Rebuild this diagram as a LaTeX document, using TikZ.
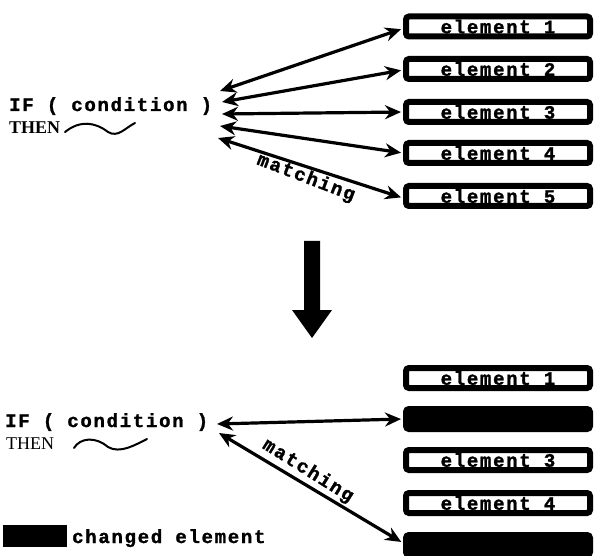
\documentclass[tikz,border=0pt]{standalone}
\usepackage{fontspec}
\usetikzlibrary{arrows.meta}
\newfontfamily\spcfont[LetterSpace=9,FakeBold=1.5]{Liberation Mono}
\newfontfamily\thenfont{Liberation Serif}
\newcommand{\spc}{\spcfont\bfseries\fontsize{19}{19}\selectfont}
\tikzset{
  elbox/.style={draw, line width=6pt, rounded corners=3pt, fill=white,
    minimum width=184pt, minimum height=20pt, inner sep=0pt, font=\spc},
  chgbox/.style={elbox, fill=black},
  plaintext/.style={inner sep=0pt, font=\spc},
  link/.style={line width=3.2pt, {Stealth[length=16pt,width=14pt]}-{Stealth[length=16pt,width=14pt]}},
  wave/.style={line width=2pt, line cap=round}
}
\begin{document}
\begin{tikzpicture}[x=1pt,y=-1pt]
\useasboundingbox (0,0) rectangle (597,556);

% ---------- rule before the change ----------
\node[plaintext, anchor=base west] (if1) at (9,111) {IF ( condition )};
\node[inner sep=0pt, anchor=base west, font=\thenfont\bfseries\fontsize{18}{18}\selectfont] (then1) at (9,134) {THEN};
\draw[wave] (65,132) .. controls (80,120) and (95,122) .. (108,132)
            .. controls (118,138) and (125,128) .. (135,123);

\node[elbox] (a1) at (498,26.5) {element 1};
\node[elbox] (a2) at (498,69) {element 2};
\node[elbox] (a3) at (498,112) {element 3};
\node[elbox] (a4) at (498,153) {element 4};
\node[elbox] (a5) at (498,196) {element 5};

\coordinate (p1) at (220,91);
\coordinate (p2) at (222,102);
\coordinate (p3) at (222,114);
\coordinate (p4) at (220,126);
\coordinate (p5) at (218,138);

\draw[link, shorten >=2pt] (p1) -- ([yshift=-2pt]a1.west);
\draw[link, shorten >=2pt] (p2) -- ([yshift=-1pt]a2.west);
\draw[link, shorten >=2pt] (p3) -- (a3.west);
\draw[link, shorten >=2pt] (p4) -- (a4.west);
\draw[link, shorten >=2pt] (p5) -- ([yshift=-2pt]a5.west);
\node[plaintext, rotate=-21] (m1) at (306,178) {matching};

% ---------- transition arrow ----------
\fill (304,241) -- (320,241) -- (320,310) -- (332,310) -- (312,338)
      -- (292,310) -- (304,310) -- cycle;

% ---------- rule after the change ----------
\node[plaintext, anchor=base west] (if2) at (5,427) {IF ( condition )};
\node[inner sep=0pt, anchor=base west, font=\thenfont\fontsize{18}{18}\selectfont] (then2) at (6,449) {THEN};
\draw[wave] (74,448) .. controls (80,438) and (95,436) .. (108,447)
            .. controls (120,454) and (135,445) .. (147,439);

\node[elbox] (b1) at (498,378) {element 1};
\node[chgbox] (b2) at (498,419) {};
\node[elbox] (b3) at (498,460) {element 3};
\node[elbox] (b4) at (498,503) {element 4};
\node[chgbox] (b5) at (498,545) {};

\coordinate (q1) at (217,424);
\coordinate (q2) at (219,433);
\draw[link, shorten >=2pt] (q1) -- (b2.west);
\draw[link, shorten >=2pt] (q2) -- ([yshift=2pt]b5.west);
\node[plaintext, rotate=-32] (m2) at (308,471) {matching};

% ---------- legend ----------
\node[fill=black, minimum width=64pt, minimum height=22pt, inner sep=0pt] (key) at (35,536) {};
\node[plaintext, anchor=base west] (keytext) at (72,543) {changed element};
\end{tikzpicture}
\end{document}
